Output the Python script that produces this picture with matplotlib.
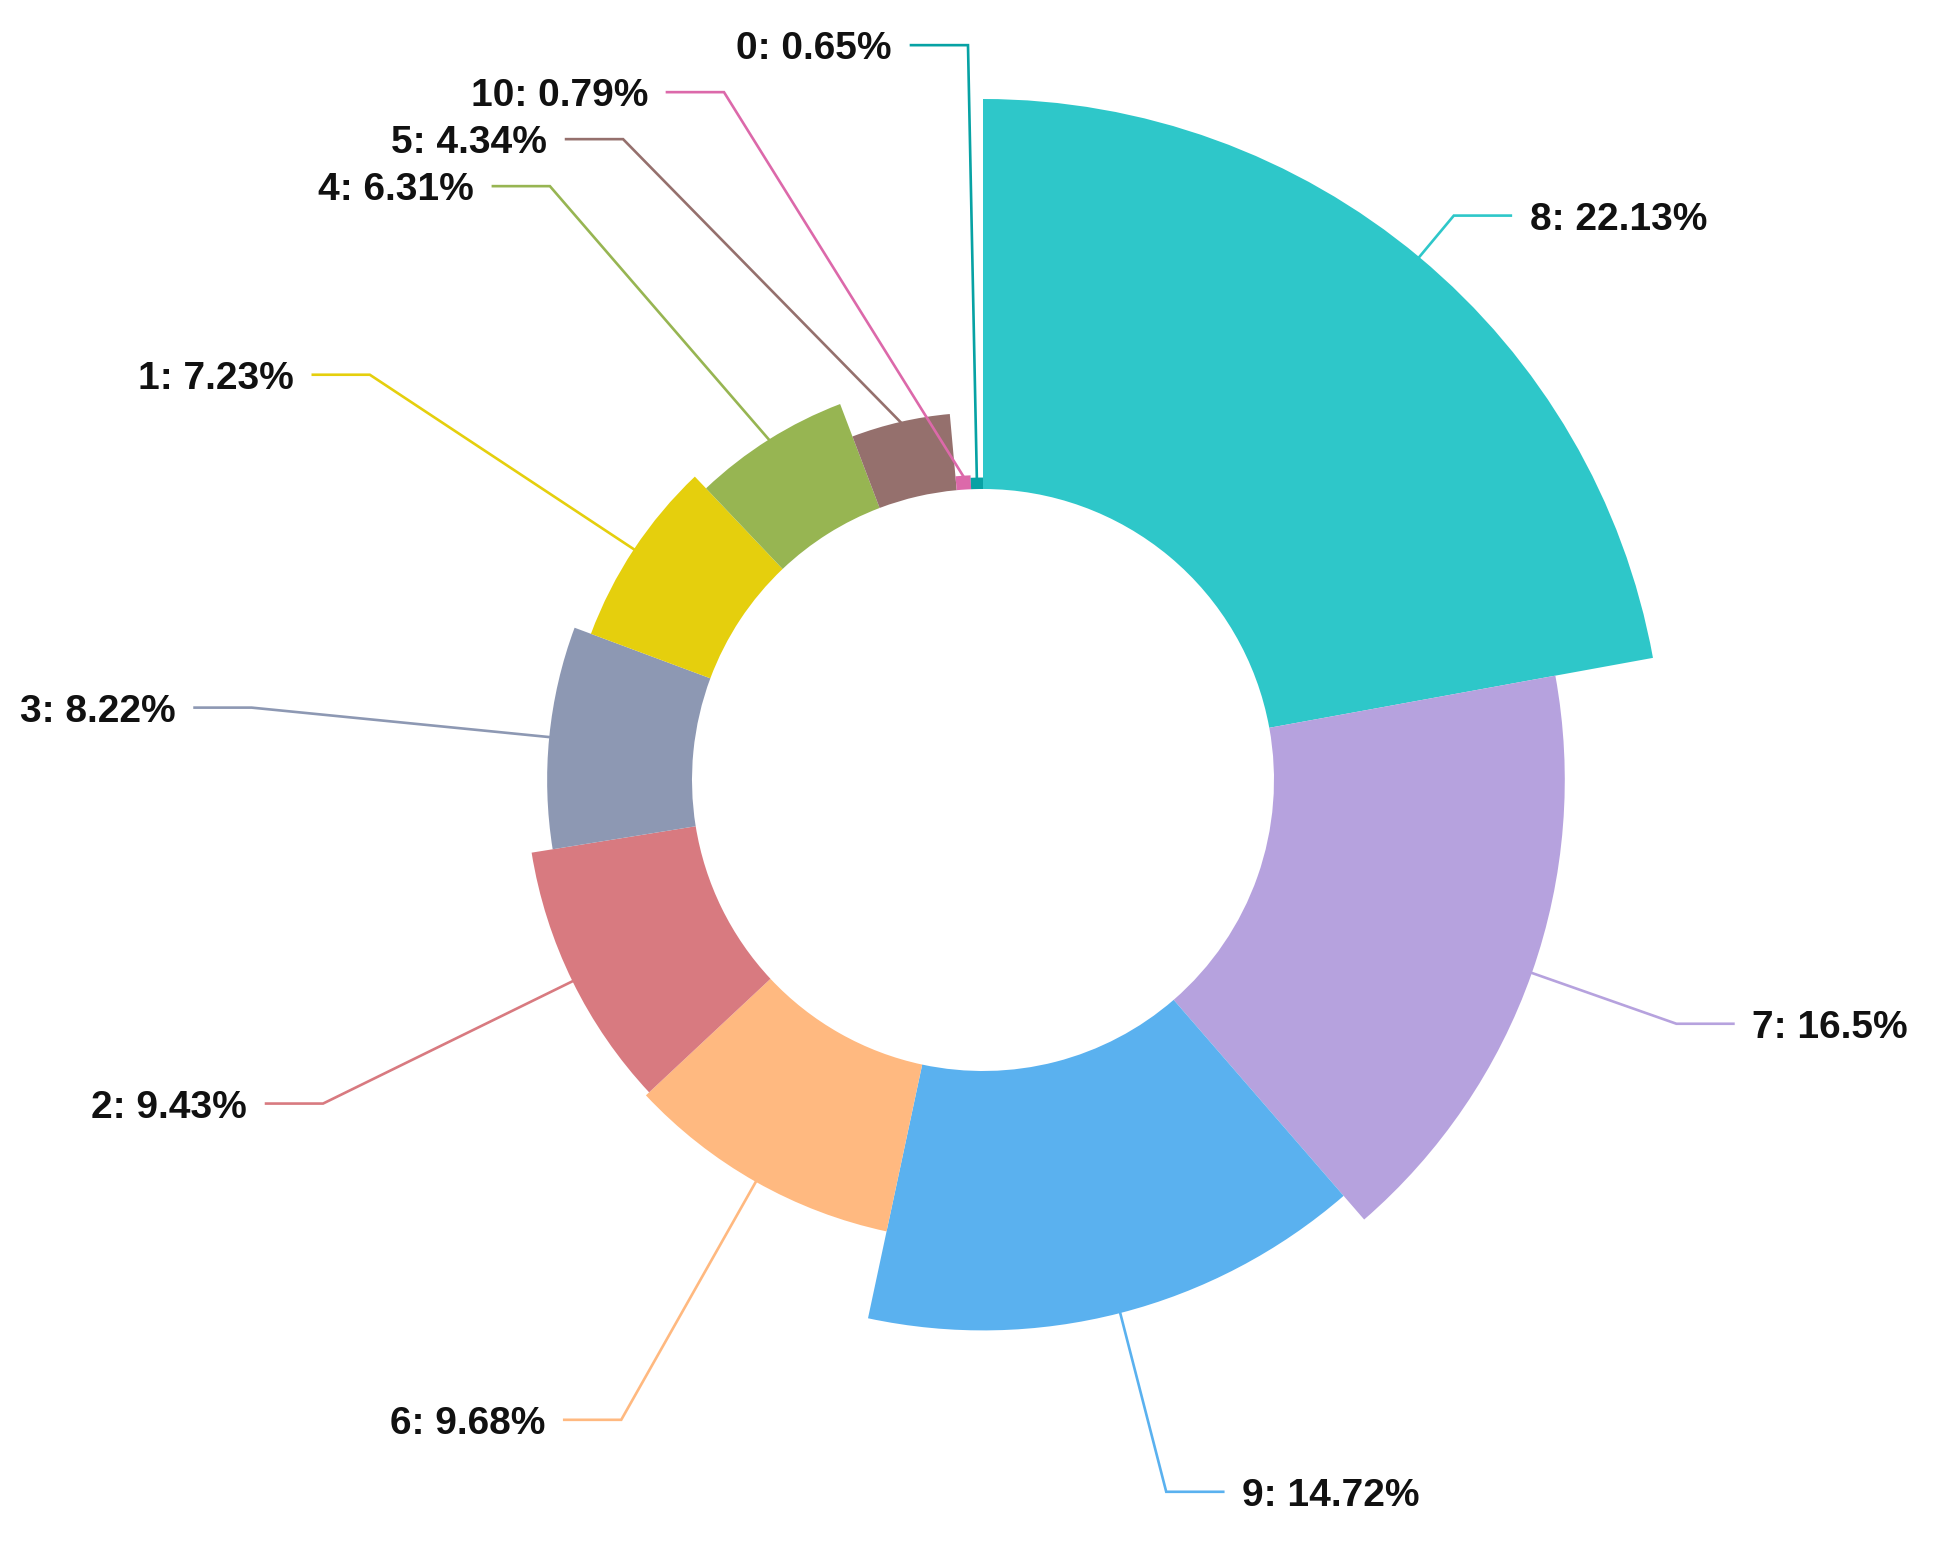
import numpy as np
import matplotlib
matplotlib.use("Agg")
import matplotlib.pyplot as plt
from matplotlib.patches import Wedge

# Дані (у порядку відображення, за годинниковою стрілкою від верху)
names = ["8", "7", "9", "6", "2", "3", "1", "4", "5", "10", "0"]
values = [22.13, 16.5, 14.72, 9.68, 9.43, 8.22, 7.23, 6.31, 4.34, 0.79, 0.65]
colors = ["#2ec7c9", "#b6a2de", "#5ab1ef", "#ffb980", "#d87a80", "#8d98b3",
          "#e5cf0d", "#97b552", "#95706d", "#dc69aa", "#07a2a4"]

W, H = 1937, 1547
cx, cy = 983, 780          # центр у пікселях (y вниз)
r0, rmax = 291, 681        # внутрішній і максимальний радіус
r_lab = 735                # радіус точок зламу ліній
len2 = 57                  # довжина горизонтального відрізка
gap = 19
min_dy = 47

fig = plt.figure(figsize=(W / 100, H / 100), dpi=100)
ax = fig.add_axes([0, 0, 1, 1])
ax.set_xlim(0, W)
ax.set_ylim(H, 0)
ax.set_aspect("equal")
ax.axis("off")

vals = np.array(values)
total = vals.sum()
vmax = vals.max()
starts = np.concatenate([[0], np.cumsum(vals)[:-1]]) / total * 360
spans = vals / total * 360
radii = r0 + vals / vmax * (rmax - r0)

# Сектори (rose type 'radius')
for st, sp, r, c in zip(starts, spans, radii, colors):
    # кут за годинниковою від верху -> математичний кут (вісь y інвертована)
    t1 = st - 90
    t2 = st + sp - 90
    ax.add_patch(Wedge((cx, cy), r, t1, t2, width=r - r0, facecolor=c,
                       edgecolor="none", antialiased=True))

# Підписи
mids = np.deg2rad(starts + spans / 2)
labels = []
for i, (m, r) in enumerate(zip(mids, radii)):
    sx, sy = cx + r * np.sin(m), cy - r * np.cos(m)
    ex, ey = cx + r_lab * np.sin(m), cy - r_lab * np.cos(m)
    side = -1 if ex < cx else 1
    labels.append(dict(i=i, sx=sx, sy=sy, ex=ex, ey=ey, side=side, shifted=False))

for side in (-1, 1):
    grp = sorted([l for l in labels if l["side"] == side], key=lambda l: l["ey"])
    for k in range(1, len(grp)):
        if grp[k]["ey"] < grp[k - 1]["ey"] + min_dy:
            grp[k]["ey"] = grp[k - 1]["ey"] + min_dy
            grp[k]["shifted"] = True
    for l in grp:
        if l["shifted"]:
            dy = l["ey"] - cy
            dx = np.sqrt(max(r_lab ** 2 - dy ** 2, 0))
            l["ex"] = cx + side * dx

for l in labels:
    i = l["i"]
    hx = l["ex"] + l["side"] * len2
    ax.plot([l["sx"], l["ex"], hx], [l["sy"], l["ey"], l["ey"]],
            color=colors[i], lw=1.9, solid_joinstyle="miter", zorder=1)
    ax.text(hx + l["side"] * gap, l["ey"], f"{names[i]}: {values[i]:g}%",
            ha="left" if l["side"] > 0 else "right", va="center_baseline",
            fontsize=28, fontweight="bold", family="Liberation Sans", color="#111111")

fig.savefig("out.png", dpi=100, facecolor="white")
